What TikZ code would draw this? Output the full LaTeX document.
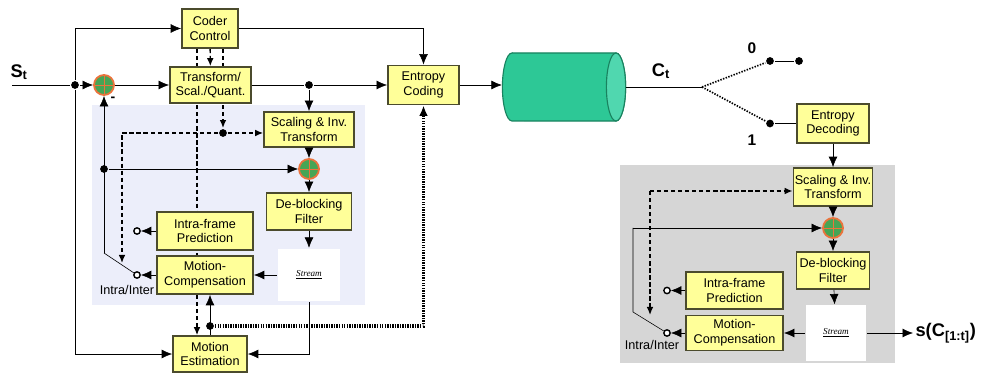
\documentclass[tikz,border=0pt]{standalone}
\usepackage{fontspec}
\setmainfont{Liberation Sans}
\newfontfamily\streamfont{Liberation Serif}
\usepackage{tikz}
\usetikzlibrary{arrows.meta,positioning,shapes,calc,backgrounds}
\definecolor{boxfill}{RGB}{255,255,153}
\definecolor{boxline}{RGB}{75,75,45}
\definecolor{tubefill}{RGB}{45,200,150}
\definecolor{tubeend}{RGB}{80,215,175}
\definecolor{tubeline}{RGB}{25,130,95}
\definecolor{sumfill}{RGB}{70,165,85}
\definecolor{sumline}{RGB}{235,115,60}
\definecolor{encback}{RGB}{236,238,250}
\definecolor{decback}{RGB}{214,214,214}

\begin{document}
\begin{tikzpicture}[x=0.025cm, y=-0.025cm, line width=1.6pt, >={Latex[length=2.6mm,width=2.2mm]},
main node/.style={rectangle,draw=boxline,fill=boxfill,line width=1.2pt,align=center,font=\fontsize{9}{10.5}\selectfont,inner sep=1pt},
sum node/.style={circle,draw=sumline,fill=sumfill,line width=1.3pt,minimum size=0.5cm,inner sep=0pt,
  path picture={\draw[sumline,line width=0.7pt] (path picture bounding box.north) -- (path picture bounding box.south) (path picture bounding box.west) -- (path picture bounding box.east);}},
dot node/.style={circle,fill=black,inner sep=0pt,minimum size=5.5pt},
open node/.style={circle,draw,fill=white,line width=1pt,inner sep=0pt,minimum size=4.5pt},
stream node/.style={rectangle,fill=white,font=\streamfont\itshape\fontsize{6.5}{7}\selectfont},
tube node/.style={rectangle,minimum width=3.05cm,minimum height=1.7cm,inner sep=0pt},
ctrl/.style={-{Latex[length=2mm,width=1.7mm]},line width=1pt,dash pattern=on 3pt off 2pt},
mv/.style={->,line width=2.2pt,dash pattern=on 1pt off 0.8pt},
pick/.style={line width=1.2pt,dash pattern=on 1pt off 1pt},
lbl/.style={font=\bfseries\fontsize{13}{15}\selectfont,inner sep=1pt}]
\useasboundingbox (0,0) rectangle (984,373);
% channel tube
\fill[tubefill,draw=tubeline,line width=0.8pt] (512,53) -- (616,53) arc[start angle=90,end angle=-90,x radius=0.24cm,y radius=0.85cm]
  -- (512,121) arc[start angle=270,end angle=90,x radius=0.24cm,y radius=0.85cm] -- cycle;
\filldraw[fill=tubeend,draw=tubeline,line width=0.8pt] (616,87) ellipse[x radius=0.24cm,y radius=0.85cm];
\begin{scope}
% encoder
\node[main node,minimum width=1.4cm,minimum height=0.98cm] (cc) at (210,28.5) {Coder\\Control};
\node[main node,minimum width=2.03cm,minimum height=0.9cm] (tq) at (210.5,85) {Transform/\\Scal./Quant.};
\node[main node,minimum width=1.78cm,minimum height=0.98cm] (ec) at (423.5,85) {Entropy\\Coding};
\node[tube node] (tube) at (564,87) {};
\node[main node,minimum width=2.25cm,minimum height=0.88cm] (sit) at (309,129.5) {Scaling \& Inv.\\Transform};
\node[sum node] (sum1) at (104,85) {};
\node[sum node] (sum2) at (309,169) {};
\node[main node,minimum width=2.13cm,minimum height=0.93cm] (dbf) at (309,211.5) {De-blocking\\Filter};
\node[main node,minimum width=2.4cm,minimum height=0.95cm] (ifp) at (205,231) {Intra-frame\\Prediction};
\node[main node,minimum width=2.4cm,minimum height=0.95cm] (mc) at (205,275) {Motion-\\Compensation};
\node[stream node,minimum width=1.55cm,minimum height=1.3cm] (stream) at (309,275) {\underline{Stream}};
\node[main node,minimum width=1.85cm,minimum height=0.9cm] (me) at (210,354) {Motion\\Estimation};
\node[lbl,anchor=west] (st) at (8,72) {S\textsubscript{t}};
\node[font=\bfseries] (minus) at (113,99) {-};
\node[font=\fontsize{9}{10.5}\selectfont] (ii) at (127,290) {Intra/Inter};
\coordinate (in) at (12,85);
\node[dot node] (jin) at (75,85) {};
\node[dot node] (jt) at (309,85) {};
\node[dot node] (jq) at (223,133) {};
\node[dot node] (jf) at (104,169) {};
\node[dot node] (jm) at (210,326) {};
\coordinate (sw1) at (104,253);
\coordinate (qb) at (122,263);
\node[open node] (o1) at (137,231) {};
\node[open node] (o2) at (137,275) {};
% decoder
\node[main node,minimum width=1.8cm,minimum height=0.98cm] (ed) at (833,123.5) {Entropy\\Decoding};
\node[main node,minimum width=1.93cm,minimum height=0.95cm] (dsit) at (833,187) {Scaling \& Inv.\\Transform};
\node[sum node] (dsum) at (833,228) {};
\node[main node,minimum width=1.83cm,minimum height=0.93cm] (ddbf) at (833,270.5) {De-blocking\\Filter};
\node[stream node,minimum width=1.5cm,minimum height=1.375cm] (dstream) at (836,333) {\underline{Stream}};
\node[main node,minimum width=2.43cm,minimum height=0.93cm] (difp) at (734.5,290.5) {Intra-frame\\Prediction};
\node[main node,minimum width=2.43cm,minimum height=0.88cm] (dmc) at (734.5,333) {Motion-\\Compensation};
\node[lbl,anchor=west] (out) at (913,333) {s(C\textsubscript{[1:t]})};
\node[lbl] (ct) at (661,71) {C\textsubscript{t}};
\node[font=\bfseries\fontsize{11}{13}\selectfont] (n0) at (752,48) {0};
\node[font=\bfseries\fontsize{11}{13}\selectfont] (n1) at (752,140) {1};
\node[font=\fontsize{9}{10.5}\selectfont] (ii2) at (652,345) {Intra/Inter};
\coordinate (swc) at (702,87);
\node[dot node] (s0) at (770,61) {};
\node[dot node] (s0b) at (799,61) {};
\node[dot node] (s1) at (770,123.5) {};
\coordinate (dq) at (650,191);
\coordinate (dqb) at (650,315);
\coordinate (dfa) at (633,228);
\coordinate (dsw) at (633,312);
\node[open node] (do1) at (667,290.5) {};
\node[open node] (do2) at (667,333) {};
\end{scope}
\begin{pgfonlayer}{background}
\fill[encback] (92,105) rectangle (365,305);
\fill[decback] (620,165) rectangle (895,363);
\draw[ctrl] (cc) -- (tq);
\draw[ctrl] (cc.south -| jq) -- (jq);
\draw[ctrl] ($(cc.south)+(-13,0)$) -- ($(me.north)+(-13,0)$);
\end{pgfonlayer}
\begin{scope}
\draw (in) -- (jin);
\draw[->] (jin) -- (sum1);
\draw[->] (jin) |- (cc);
\draw[->] (jin) |- (me);
\draw[->] (sum1) -- (tq);
\draw (tq) -- (jt);
\draw[->] (jt) -- (ec);
\draw[->] (jt) -- (sit);
\draw[->] (cc) -| (ec);
\draw[->] (ec) -- (ec -| tube.west);
\draw[ctrl] (jq) -- (jq -| sit.west);
\draw[ctrl] (jq) -| (qb);
\draw[->] (sit) -- (sum2);
\draw[->] (sum2) -- (dbf);
\draw[->] (dbf) -- (stream);
\draw[->] (stream) -- (mc);
\draw[->] (mc) -- (o2);
\draw[->] (ifp) -- (o1);
\draw[->] (stream) |- (me);
\draw[->] (sw1) -- (sum1);
\draw (sw1) -- (o2);
\draw[->] (jf) -- (sum2);
\draw[->] (me) -- (jm |- mc.south);
\draw[mv] (jm) -| (ec);
\draw (tube) -- (swc);
\draw[pick] (swc) -- (s0);
\draw[pick] (swc) -- (s1);
\draw (s0) -- (s0b);
\draw (s1) -- (ed);
\draw[->] (ed) -- (dsit);
\draw[ctrl] (dq) -- (dq -| dsit.west);
\draw[ctrl] (dq) -- (dqb);
\draw[->] (dsit) -- (dsum);
\draw[->] (dsum) -- (ddbf);
\draw[->] (ddbf) -- (dstream);
\draw[->] (dfa) -- (dsum);
\draw (dfa) -- (dsw) -- (do2);
\draw[->] (dstream) -- (dmc);
\draw[->] (dmc) -- (do2);
\draw[->] (difp) -- (do1);
\draw[->] (dstream) -- (out);
\end{scope}
\end{tikzpicture}
\end{document}
